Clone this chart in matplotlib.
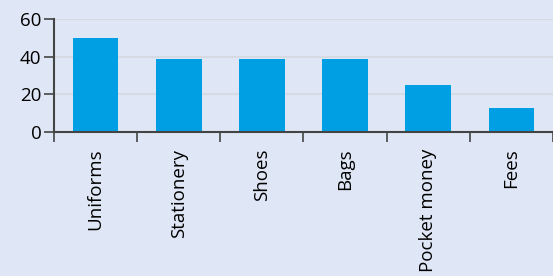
import numpy as np
import matplotlib.pyplot as plt

# chart data
categories = ['Uniforms', 'Stationery', 'Shoes', 'Bags', 'Pocket money', 'Fees']
values = [50, 39, 39, 39, 25, 12.5]
y_ticks = [0, 20, 40, 60]

bg = '#dfe6f5'
bar_color = '#009fe3'
axis_color = '#444444'

plt.rcParams['font.family'] = ['Open Sans', 'DejaVu Sans']

fig = plt.figure(figsize=(5.53, 2.76), dpi=100, facecolor=bg)
ax = fig.add_axes([54 / 553, 1 - 132 / 276, 1 - 54 / 553, 113 / 276])
ax.set_facecolor(bg)

x = np.arange(len(categories))
ax.bar(x, values, width=0.55, color=bar_color, zorder=3)

ax.set_xlim(-0.5, len(categories) - 0.5)
ax.set_ylim(0, 60)
ax.set_yticks(y_ticks)
ax.yaxis.grid(True, color='#d6dbe3', linewidth=1.5, zorder=0)

# labels at centres, tick marks on boundaries
ax.set_xticks(x)
ax.set_xticklabels(categories, rotation=90, fontsize=13.5)
ax.tick_params(axis='x', which='major', length=0, pad=12)
ax.set_xticks(np.arange(-0.5, len(categories)), minor=True)
ax.tick_params(axis='x', which='minor', length=7, width=1.2, color=axis_color, direction='out')
ax.tick_params(axis='y', length=7, width=1.2, color=axis_color, labelsize=13.5, pad=2)

for s in ['top', 'right']:
    ax.spines[s].set_visible(False)
for s in ['left', 'bottom']:
    ax.spines[s].set_color(axis_color)
    ax.spines[s].set_linewidth(1.5)
    ax.spines[s].set_zorder(4)

fig.savefig('out.png', dpi=100, facecolor=bg)
